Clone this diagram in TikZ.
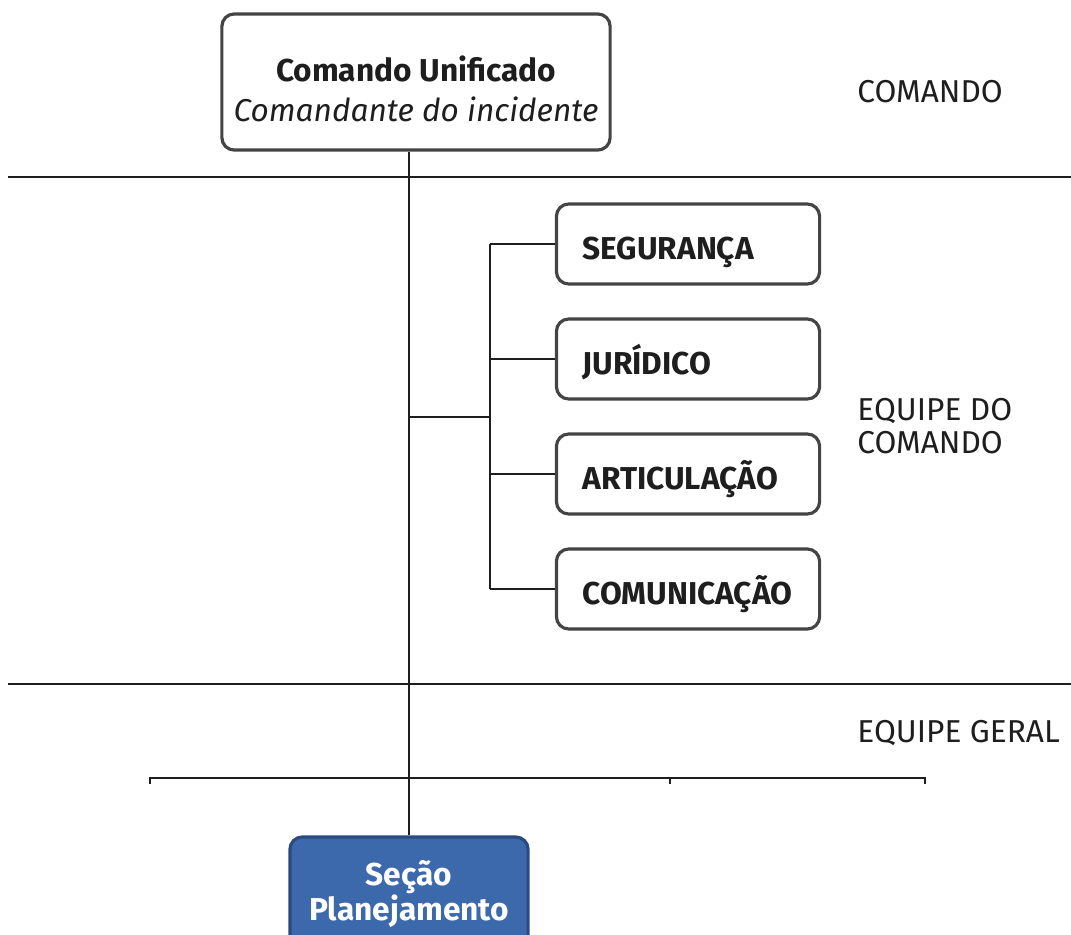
\documentclass[tikz,border=0pt]{standalone}
\usepackage{fontspec}
\setmainfont{Fira Sans}
\usepackage{xcolor}
\usetikzlibrary{calc}

\definecolor{inkdark}{HTML}{1E1E1E}
\definecolor{boxline}{HTML}{444444}
\definecolor{planblue}{HTML}{3C68AC}
\definecolor{planline}{HTML}{2A4A80}

\begin{document}
\begin{tikzpicture}[x=0.01cm,y=-0.01cm,
  every node/.style={text=inkdark,font=\fontsize{9}{9.2}\selectfont},
  wbox/.style={draw=boxline,line width=0.9pt,rounded corners=3.5pt,fill=white},
  teambox/.style={wbox,minimum height=0.8cm,text width=2.11cm,inner xsep=0.26cm,align=left,
    text height=8.6pt,text depth=0pt,font=\fontsize{9}{9.2}\selectfont\bfseries},
  tier/.style={anchor=west,align=left},
  wire/.style={line width=0.7pt,inkdark}]

\clip (0,0) rectangle (1071,934);

% Unified command
\node[wbox,minimum width=3.88cm,minimum height=1.36cm] (cmd) at (416,82) {};
\node[align=center,font=\fontsize{9}{11.3}\selectfont] (cmdtxt) at ([yshift=-2pt]cmd.center)
  {\textbf{Comando Unificado}\\\textit{Comandante do incidente}};

% Command staff
\node[teambox] (seg) at (688,244) {SEGURANÇA};
\node[teambox] (jur) at (688,359) {JURÍDICO};
\node[teambox] (art) at (688,474) {ARTICULAÇÃO};
\node[teambox] (com) at (688,589) {COMUNICAÇÃO};

% Planning section
\node[draw=planline,line width=0.9pt,fill=planblue,rounded corners=3.5pt,minimum width=2.38cm,minimum height=1.14cm,
  align=center,text=white,font=\fontsize{9}{10}\selectfont\bfseries] (plan) at (409,894) {Seção\\Planejamento};

% Tier labels
\node[tier] (lcmd) at (845,92) {COMANDO};
\node[tier] (lstaff) at (845,426) {EQUIPE DO\\COMANDO};
\node[tier] (lgen) at (845,733) {EQUIPE GERAL};

% Dividers
\draw[wire] (8,177) -- (1071,177);
\draw[wire] (8,684) -- (1071,684);

% Trunk
\draw[wire] (cmd.south -| plan.north) -- (plan.north);

% Staff bracket
\coordinate (brk) at (490,417);
\draw[wire] (brk -| plan.north) -- (brk);
\draw[wire] (seg.west -| brk) -- (com.west -| brk);
\foreach \b in {seg,jur,art,com}
  \draw[wire] (\b.west -| brk) -- (\b.west);

% General staff bar
\coordinate (barL) at (150,778);
\coordinate (barM) at (670,778);
\coordinate (barR) at (925,778);
\draw[wire] ([yshift=-1.7pt]barL) -- (barL) -- (barR) -- ([yshift=-1.7pt]barR);
\draw[wire] (barM) -- ([yshift=-1.7pt]barM);

\end{tikzpicture}
\end{document}
